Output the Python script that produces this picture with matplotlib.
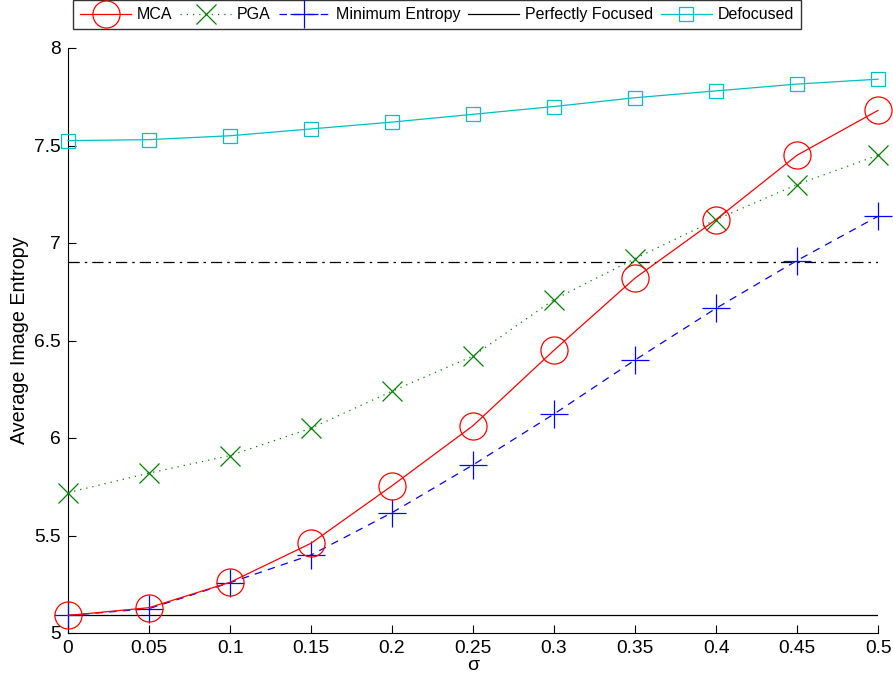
import matplotlib
matplotlib.use("Agg")
import matplotlib.pyplot as plt

plt.rcParams['font.family'] = ['Liberation Sans', 'DejaVu Sans']

sigma = [0, 0.05, 0.1, 0.15, 0.2, 0.25, 0.3, 0.35, 0.4, 0.45, 0.5]
mca = [5.09, 5.13, 5.26, 5.46, 5.755, 6.063, 6.45, 6.82, 7.12, 7.45, 7.68]
pga = [5.72, 5.82, 5.91, 6.05, 6.24, 6.42, 6.71, 6.92, 7.12, 7.30, 7.45]
min_entropy = [5.09, 5.125, 5.258, 5.40, 5.617, 5.862, 6.123, 6.40, 6.665, 6.91, 7.137]
perfect_level = 5.094
threshold_level = 6.903
defocused = [7.525, 7.53, 7.55, 7.585, 7.62, 7.66, 7.70, 7.745, 7.78, 7.815, 7.84]

xticks = [0, 0.05, 0.1, 0.15, 0.2, 0.25, 0.3, 0.35, 0.4, 0.45, 0.5]
xticklabels = ['0', '0.05', '0.1', '0.15', '0.2', '0.25', '0.3', '0.35', '0.4', '0.45', '0.5']
yticks = [5, 5.5, 6, 6.5, 7, 7.5, 8]
yticklabels = ['5', '5.5', '6', '6.5', '7', '7.5', '8']

fig = plt.figure(figsize=(8.93, 6.85), dpi=100)
ax = fig.add_axes([68/893, 52/685, 810/893, 585/685])

lw = 0.9
ax.plot(sigma, mca, color='#ff0000', lw=lw, ls='-', marker='o', ms=19.5,
        mfc='none', mec='#ff0000', mew=lw, label='MCA', clip_on=False, zorder=5)
ax.plot(sigma, pga, color='#008000', lw=lw, ls=(0, (1, 4)), marker='x', ms=14,
        mec='#008000', mew=lw, label='PGA', clip_on=False, zorder=4)
ax.plot(sigma, min_entropy, color='#0000ff', lw=lw, ls=(0, (6, 5)), marker='+', ms=20,
        mec='#0000ff', mew=lw, label='Minimum Entropy', clip_on=False, zorder=4)
ax.plot([sigma[0], sigma[-1]], [perfect_level, perfect_level], color='black', lw=lw,
        ls='-', label='Perfectly Focused', zorder=3)
ax.plot([sigma[0], sigma[-1]], [threshold_level, threshold_level], color='black', lw=lw,
        ls=(0, (9, 4, 2, 4)), label='_nolegend_', zorder=3)
ax.plot(sigma, defocused, color='#00bfbf', lw=lw, ls='-', marker='s', ms=10.5,
        mfc='none', mec='#00bfbf', mew=lw, label='Defocused', clip_on=False, zorder=4)

ax.set_xlim(0, 0.5)
ax.set_ylim(5, 8)
ax.set_xticks(xticks)
ax.set_xticklabels(xticklabels)
ax.set_yticks(yticks)
ax.set_yticklabels(yticklabels)
ax.tick_params(direction='in', length=6, width=0.8, labelsize=13.8, pad=5)
ax.spines['top'].set_visible(False)
ax.spines['right'].set_visible(False)
ax.spines['left'].set_linewidth(0.8)
ax.spines['bottom'].set_linewidth(0.8)

ax.set_xlabel('σ', fontsize=14, labelpad=0)
ax.set_ylabel('Average Image Entropy', fontsize=14.2, labelpad=4)

leg = fig.legend(loc='upper left', bbox_to_anchor=(73/893, 1.0), ncol=5,
                 frameon=True, fancybox=False, edgecolor='black', fontsize=11.5,
                 handlelength=3.2, handletextpad=0.35, columnspacing=0.5,
                 borderpad=0.45, borderaxespad=0)
leg.get_frame().set_linewidth(1.0)

fig.savefig('out.png', dpi=100)
